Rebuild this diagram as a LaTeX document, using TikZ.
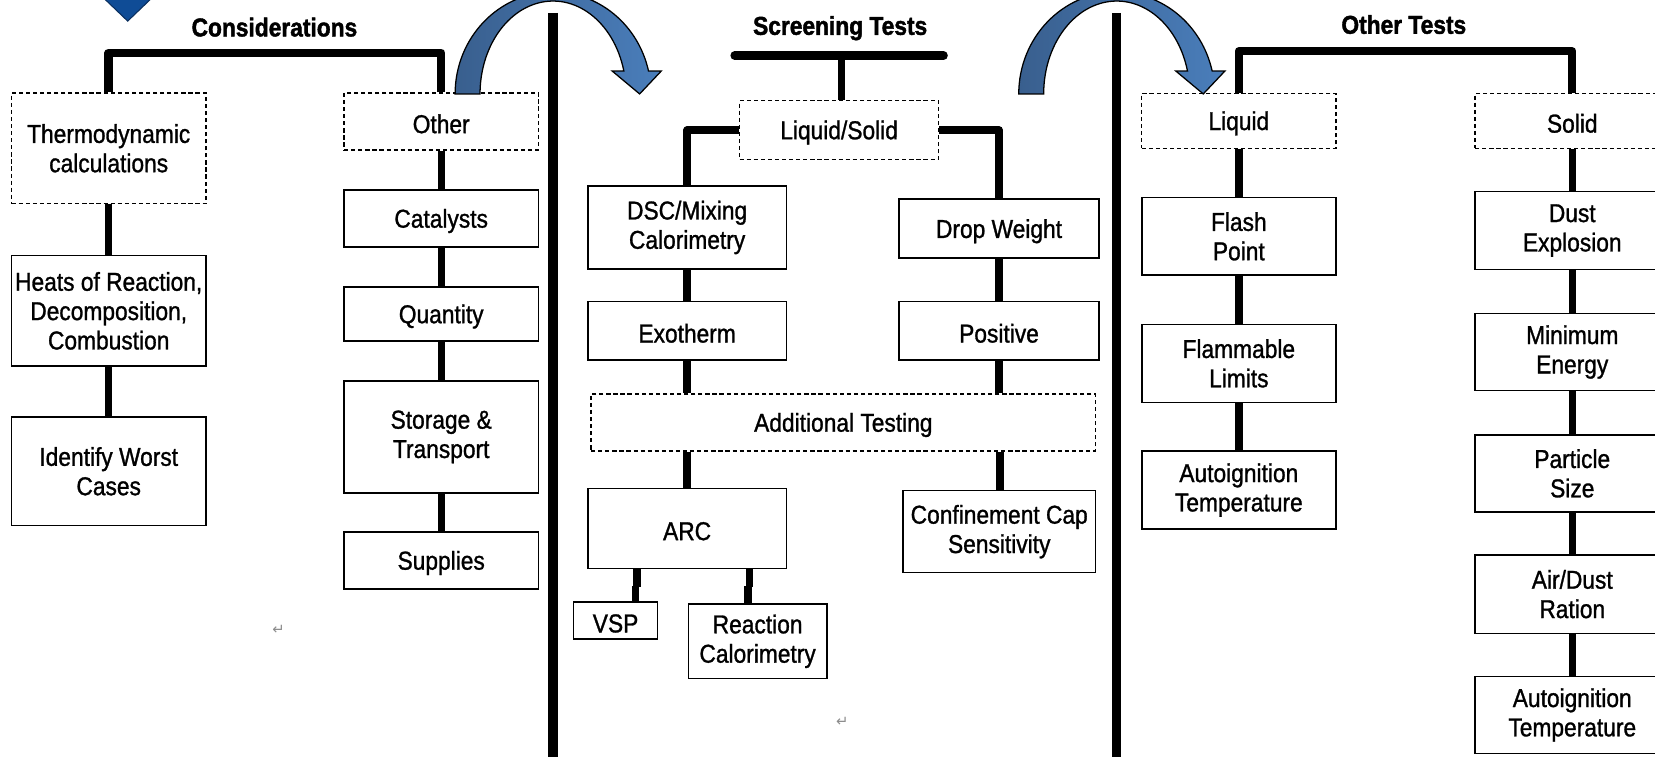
\documentclass[tikz,border=0pt]{standalone}
\usepackage{fontspec}
\setmainfont[FakeStretch=0.88, FakeBold=1.1]{Liberation Sans}
\newfontfamily\headfont[FakeStretch=0.88, FakeBold=1.6]{Liberation Sans}
\newfontfamily\symfont{DejaVu Sans}
\usetikzlibrary{calc}

\definecolor{arrowdark}{HTML}{395F8E}
\definecolor{arrowlight}{HTML}{4A7EBB}
\definecolor{markblue}{HTML}{0F4C96}
\definecolor{markedge}{HTML}{0A2F5E}

\newcommand{\boxtextfont}{\fontsize{24.5}{27.8}\selectfont}

\tikzset{
  solidbox/.style={draw=black, line width=1.5pt, fill=white, align=center,
                   inner sep=0pt, font=\boxtextfont,
                   execute at begin node={\rule{0pt}{22.5pt}}},
  dashbox/.style={solidbox, line width=1.3pt, dash pattern=on 4pt off 2.7pt},
  link/.style={line width=7pt},
  bracket/.style={line width=8pt, line join=round},
  divider/.style={line width=9pt},
  heading/.style={anchor=base, font=\headfont\bfseries\fontsize{24.5}{27}\selectfont},
  sweep/.style={draw=black, line width=1.2pt, left color=arrowdark, right color=arrowlight},
  retmark/.style={text=black!45, font=\symfont\fontsize{14}{14}\selectfont},
}

\begin{document}
\begin{tikzpicture}[x=1pt, y=-1pt]
\useasboundingbox (0,0) rectangle (1568,717);
\clip (0,0) rectangle (1568,717);

% ---------------- Considerations ----------------
\fill[markblue, draw=markedge, line width=1pt] (97,-3) -- (145,-3) -- (121,20) -- cycle;
\node[heading] (hcons) at (260,34.5) {Considerations};

\node[dashbox,  minimum width=184pt, minimum height=105pt] (thermo)  at (103,140.5) {Thermodynamic\\calculations};
\node[solidbox, minimum width=184pt, minimum height=105pt] (heats)   at (103,294.5) {Heats of Reaction,\\Decomposition,\\Combustion};
\node[solidbox, minimum width=184pt, minimum height=103pt] (worst)   at (103,446.5) {Identify Worst\\Cases};

\node[dashbox,  minimum width=184pt, minimum height=54pt]  (other)   at (418,115)   {Other};
\node[solidbox, minimum width=184pt, minimum height=54pt]  (catal)   at (418,207)   {Catalysts};
\node[solidbox, minimum width=184pt, minimum height=51pt]  (quant)   at (418,297.5) {Quantity};
\node[solidbox, minimum width=184pt, minimum height=106pt] (storage) at (418,414)   {Storage \&\\Transport};
\node[solidbox, minimum width=184pt, minimum height=54pt]  (supply)  at (418,531)   {Supplies};

\coordinate (ctop) at (260,50);
\draw[bracket] (thermo.north) |- (ctop) -| (other.north);
\draw[link] (thermo) -- (heats);
\draw[link] (heats) -- (worst);
\draw[link] (other) -- (catal);
\draw[link] (catal) -- (quant);
\draw[link] (quant) -- (storage);
\draw[link] (storage) -- (supply);

\node[retmark] (ret1) at (264,597) {↵};

% ---------------- dividers ----------------
\draw[divider] (524,12.3) -- (524,725);
\draw[divider] (1058,12.3) -- (1058,725);

% ---------------- Screening Tests ----------------
\node[heading] (hscreen) at (796,33) {Screening Tests};

\node[dashbox,  minimum width=188.6pt, minimum height=55.6pt] (liqsol) at (795,123.2)   {Liquid/Solid};
\node[solidbox, minimum width=188pt,   minimum height=78.7pt] (dsc)    at (651,215.5)   {DSC/Mixing\\Calorimetry};
\node[solidbox, minimum width=188pt,   minimum height=55.2pt] (exo)    at (651,313.4)   {Exotherm};
\node[solidbox, minimum width=189pt,   minimum height=55.9pt] (drop)   at (946.5,216.7) {Drop Weight};
\node[solidbox, minimum width=189pt,   minimum height=55.2pt] (pos)    at (946.5,313.4) {Positive};
\node[dashbox,  minimum width=478pt,   minimum height=54pt]   (addl)   at (799,400.3)   {Additional Testing};
\node[solidbox, minimum width=188pt,   minimum height=75.8pt] (arc)    at (651,500.6)   {ARC};
\node[solidbox, minimum width=182.6pt, minimum height=77.7pt] (conf)   at (946.7,503.7) {Confinement Cap\\Sensitivity};
\node[solidbox, minimum width=79.5pt,  minimum height=34.8pt] (vsp)    at (583.2,588)   {VSP};
\node[solidbox, minimum width=131pt,   minimum height=70.2pt] (rcal)   at (717.8,607.6) {Reaction\\Calorimetry};

\coordinate (sbarL) at (696,52.6);
\coordinate (sbarR) at (894,52.6);
\coordinate (sstem) at (797.5,52.6);
\draw[bracket, line cap=round] (sbarL) -- (sbarR);
\draw[link] (sstem) -- (sstem |- liqsol.north);

\draw[link, line join=round] (liqsol.west) -| (dsc.north);
\draw[link, line join=round] (liqsol.east) -| (drop.north);
\draw[link] (dsc) -- (exo);
\draw[link] (drop) -- (pos);
\draw[link] (exo.south) -- (exo.south |- addl.north);
\draw[link] (pos.south) -- (pos.south |- addl.north);
\draw[link] (arc.north |- addl.south) -- (arc.north);
\coordinate (confjoin) at (947.5,0);
\draw[link] (confjoin |- addl.south) -- (confjoin |- conf.north);

% ARC feeds with a slight offset part-way down
\coordinate (vspA) at (603.5,556.5);
\coordinate (vspB) at (602,555);
\draw[link] (vspA |- arc.south) -- (vspA);
\draw[link] (vspB) -- (vspB |- vsp.north);
\coordinate (rcalA) at (710,556.5);
\coordinate (rcalB) at (708.5,555);
\draw[link] (rcalA |- arc.south) -- (rcalA);
\draw[link] (rcalB) -- (rcalB |- rcal.north);

\node[retmark] (ret2) at (798,684) {↵};

% ---------------- Other Tests ----------------
\node[heading] (hother) at (1330,32) {Other Tests};

\node[dashbox,  minimum width=184pt, minimum height=52pt]   (liq)   at (1173.7,114.5) {Liquid};
\node[solidbox, minimum width=184pt, minimum height=73.8pt] (flash) at (1173.7,223.9) {Flash\\Point};
\node[solidbox, minimum width=184pt, minimum height=74pt]   (flam)  at (1173.7,344.3) {Flammable\\Limits};
\node[solidbox, minimum width=184pt, minimum height=74pt]   (autoL) at (1173.7,464.3) {Autoignition\\Temperature};

\node[dashbox,  minimum width=184pt, minimum height=52pt]   (sol)   at (1489.6,114.5) {Solid};
\node[solidbox, minimum width=184pt, minimum height=73.6pt] (dust)  at (1489.6,218.4) {Dust\\Explosion};
\node[solidbox, minimum width=184pt, minimum height=73.2pt] (mine)  at (1489.6,333.5) {Minimum\\Energy};
\node[solidbox, minimum width=184pt, minimum height=72.7pt] (part)  at (1489.6,448.5) {Particle\\Size};
\node[solidbox, minimum width=184pt, minimum height=74.2pt] (air)   at (1489.6,562.9) {Air/Dust\\Ration};
\node[solidbox, minimum width=184pt, minimum height=72.6pt] (autoS) at (1489.6,677.4) {Autoignition\\Temperature};

\coordinate (otop) at (1330,48.5);
\draw[bracket] (liq.north) |- (otop) -| (sol.north);
\draw[link] (liq) -- (flash);
\draw[link] (flash) -- (flam);
\draw[link] (flam) -- (autoL);
\draw[link] (sol) -- (dust);
\draw[link] (dust) -- (mine);
\draw[link] (mine) -- (part);
\draw[link] (part) -- (air);
\draw[link] (air) -- (autoS);

% ---------------- curved transfer arrows ----------------
\foreach \cx in {524,1058}{
  \begin{scope}[shift={(\cx,0)}]
    \path[sweep] (-92.8,89)
      arc[start angle=180, end angle=347.02, x radius=92.8, y radius=96.6]
      -- (102.5,67.3) -- (82,89) -- (56,67.3) -- (67.06,67.3)
      arc[start angle=345.72, end angle=180, x radius=69.2, y radius=88]
      -- cycle;
  \end{scope}
}
\end{tikzpicture}
\end{document}
